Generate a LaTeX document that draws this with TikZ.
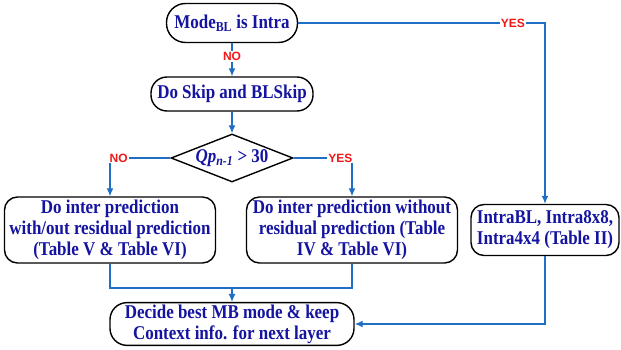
\documentclass[tikz,border=0pt]{standalone}
\usepackage{fontspec}
\usepackage{tikz}
\usetikzlibrary{shapes.geometric,arrows.meta}
\newfontfamily\boxfont[FakeStretch=0.87]{Liberation Serif}
\newfontfamily\labfont{Liberation Sans}
\definecolor{flowblue}{HTML}{1F6FC5}
\definecolor{textnavy}{HTML}{1414A0}
\definecolor{labelred}{HTML}{F01818}

\begin{document}
\begin{tikzpicture}[
    x=1pt, y=1pt,
    stage/.style={rectangle, draw, line width=1.4pt, rounded corners=13pt,
                  fill=white, text=textnavy, align=center, inner sep=2pt,
                  font=\boxfont\bfseries\fontsize{19.5}{21}\selectfont},
    decision/.style={diamond, draw, line width=1.4pt, aspect=2.5, inner sep=0pt,
                     fill=white, text=textnavy,
                     minimum width=122pt, minimum height=48pt,
                     font=\boxfont\bfseries\fontsize{19.5}{21}\selectfont},
    flow/.style={draw=flowblue, line width=1.3pt},
    arr/.style={flow, -{Latex[length=8pt,width=7pt]}},
    answer/.style={fill=white, text=labelred, inner sep=1pt,
                   font=\labfont\bfseries\fontsize{12}{13}\selectfont}
]
\useasboundingbox (0,0) rectangle (621,349);

\node[stage, rounded corners=19pt, minimum width=131pt, minimum height=39pt] (mode) at (232,326) {Mode\textsubscript{BL} is Intra};
\node[stage, rounded corners=16pt, minimum width=162pt, minimum height=34pt, node distance=71pt, below of=mode] (skip) {Do Skip and BLSkip};
\node[decision, node distance=64pt, below of=skip] (qp) {\itshape Qp\textsubscript{n-1}\upshape{} > 30};
\node[stage, minimum width=211pt, minimum height=66pt, node distance=72pt, below of=qp, xshift=-122pt] (withres) {Do inter prediction\\with/out residual prediction\\(Table V \& Table VI)};
\node[stage, minimum width=211pt, minimum height=66pt, node distance=72pt, below of=qp, xshift=120pt] (nores) {Do inter prediction without\\residual prediction (Table\\IV \& Table VI)};
\node[stage, minimum width=148pt, minimum height=51pt, node distance=193pt, right of=nores] (intra) {IntraBL, Intra8x8,\\Intra4x4 (Table II)};
\node[stage, rounded corners=17pt, minimum width=244pt, minimum height=42pt, node distance=166pt, below of=qp] (decide) {Decide best MB mode \& keep\\Context info. for next layer};
\coordinate (merge) at ([yshift=14pt]decide.north);

\draw[arr] (mode) -- node[answer, pos=0.4] {NO} (skip);
\draw[arr] (skip) -- (qp);
\draw[arr] (qp.west) -| node[answer, pos=0.5, anchor=west, xshift=-2pt] {NO} (withres.north);
\draw[arr] (qp.east) -| node[answer, pos=0.5, anchor=east, xshift=2pt] {YES} (nores.north);
\draw[arr] (mode.east) -| node[answer, pos=0.435] {YES} (intra.north);
\draw[flow] (withres.south) |- (merge) -| (nores.south);
\draw[arr] (merge) -- (decide.north);
\draw[arr] (intra.south) |- (decide.east);
\end{tikzpicture}
\end{document}
